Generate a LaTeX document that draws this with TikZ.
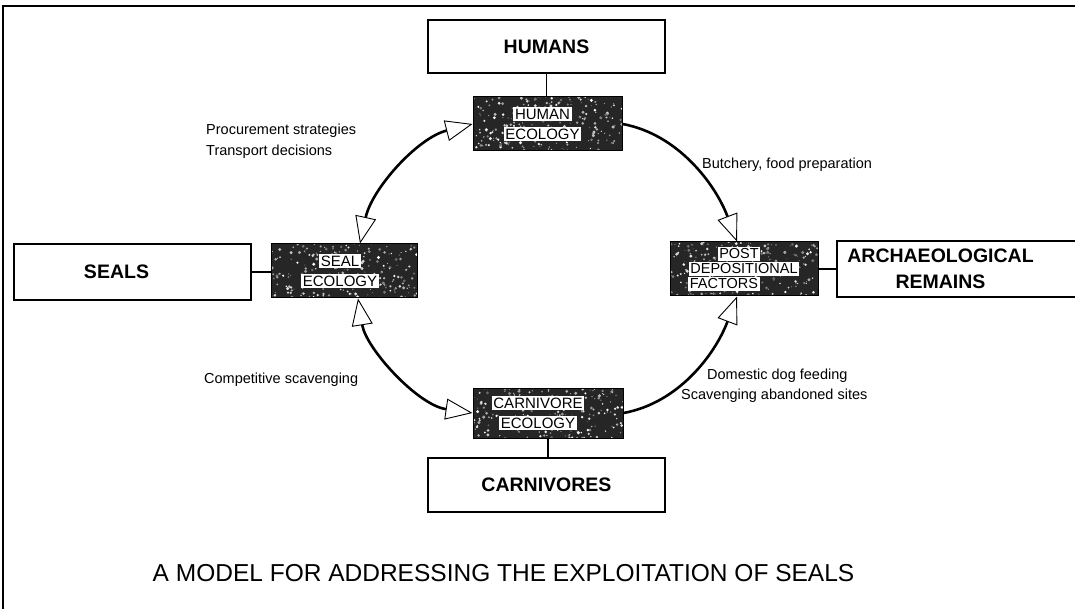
\documentclass[tikz,border=0pt]{standalone}
\usepackage{fontspec}
\setmainfont{Liberation Sans}
\usetikzlibrary{arrows.meta,calc}
\newcommand\wl[1]{{\setlength{\fboxsep}{1.6pt}\colorbox{white}{#1}}}
\begin{document}
\begin{tikzpicture}[x=1pt,y=-1pt,
  wbox/.style={draw, line width=1.1pt, fill=white, inner sep=0pt, align=center,
    font=\fontsize{19.5}{26}\selectfont\bfseries},
  eco/.style={draw=black, line width=1pt, fill=black!85, inner sep=0pt, align=center,
    font=\fontsize{15}{20}\selectfont,
    path picture={\foreach \k in {1,...,260}{
        \pgfmathsetmacro\dx{(rnd-0.5)*152}
        \pgfmathsetmacro\dy{(rnd-0.5)*56}
        \pgfmathsetmacro\rr{0.4+rnd*1.3}
        \pgfmathsetmacro\gg{40+rnd*60}
        \fill[white!\gg!black] ([shift={(\dx,\dy)}]path picture bounding box.center) circle[radius=\rr];
      }}},
  lbl/.style={inner sep=0pt, font=\fontsize{14.5}{17}\selectfont},
  conn/.style={line width=1.4pt},
  arcline/.style={line width=2.6pt},
  onearrow/.style={arcline, -{Triangle[open,length=27pt,width=21pt,line width=0.9pt]}},
  twoarrow/.style={arcline, {Triangle[open,length=27pt,width=21pt,line width=0.9pt]}-{Triangle[open,length=27pt,width=21pt,line width=0.9pt]}}
]
\pgfmathsetseed{7}
\useasboundingbox (0,0) rectangle (1075,609);
% frame
\draw[line width=1.3pt] (2,6) -- (1080,6);
\draw[line width=1.1pt] (3,6) -- (3,612);

% outer boxes
\node[wbox, minimum width=237pt, minimum height=53pt] (humans) at (546.5,46.5) {HUMANS};
\node[wbox, minimum width=237pt, minimum height=56pt] (seals) at (132.5,272) {SEALS\hspace*{32pt}};
\node[wbox, minimum width=245pt, minimum height=56pt] (arch) at (959.5,269) {ARCHAEOLOGICAL\hspace*{38pt}\\REMAINS\hspace*{38pt}};
\node[wbox, minimum width=237pt, minimum height=54pt] (carn) at (546.5,485) {CARNIVORES};

% ecology boxes
\node[eco, minimum width=149pt, minimum height=54pt] (he) at (547.5,124) {\wl{HUMAN}\hspace*{10pt}\\\wl{ECOLOGY}\hspace*{10pt}};
\node[eco, minimum width=146pt, minimum height=54pt] (se) at (344,271) {\wl{SEAL}\hspace*{8pt}\\\wl{ECOLOGY}\hspace*{8pt}};
\node[eco, minimum width=148pt, minimum height=54pt, font=\fontsize{14.5}{15}\selectfont] (pd) at (744,269) {\wl{POST}\hspace*{10pt}\\\wl{DEPOSITIONAL}\hspace*{22pt}\\\wl{FACTORS}\hspace*{40pt}};
\node[eco, minimum width=150pt, minimum height=50pt] (ce) at (548,413) {\wl{CARNIVORE}\hspace*{20pt}\\\wl{ECOLOGY}\hspace*{20pt}};

% straight connectors
\draw[conn] (humans.south) -- (humans.south |- he.north);
\draw[conn] (seals.east) -- (seals.east -| se.west);
\draw[conn] (pd.east) -- (pd.east -| arch.west);
\draw[conn] (ce.south) -- (ce.south |- carn.north);

% curved arrows
\draw[twoarrow] (he.west) .. controls +(-55,14) and +(12,-55) .. ([xshift=16pt]se.north);
\draw[onearrow] (he.east) .. controls +(55,10) and +(-22,-58) .. ([xshift=-7pt]pd.north);
\draw[twoarrow] ([xshift=14pt]se.south) .. controls +(8,50) and +(-55,-8) .. (ce.west);
\draw[onearrow] (ce.east) .. controls +(55,-10) and +(-22,58) .. ([xshift=-7pt]pd.south);

% labels
\node[lbl, anchor=west] (l1) at (206,131) {Procurement strategies};
\node[lbl, anchor=west] (l2) at (206,152) {Transport decisions};
\node[lbl, anchor=west] (l3) at (702,165) {Butchery, food preparation};
\node[lbl, anchor=west] (l4) at (204,380) {Competitive scavenging};
\node[lbl, anchor=west] (l5) at (707,376) {Domestic dog feeding};
\node[lbl, anchor=west] (l6) at (681,396) {Scavenging abandoned sites};

% title
\node[inner sep=0pt, font=\fontsize{24.5}{28}\selectfont] (title) at (503.5,573) {A MODEL FOR ADDRESSING THE EXPLOITATION OF SEALS};
\end{tikzpicture}
\end{document}
